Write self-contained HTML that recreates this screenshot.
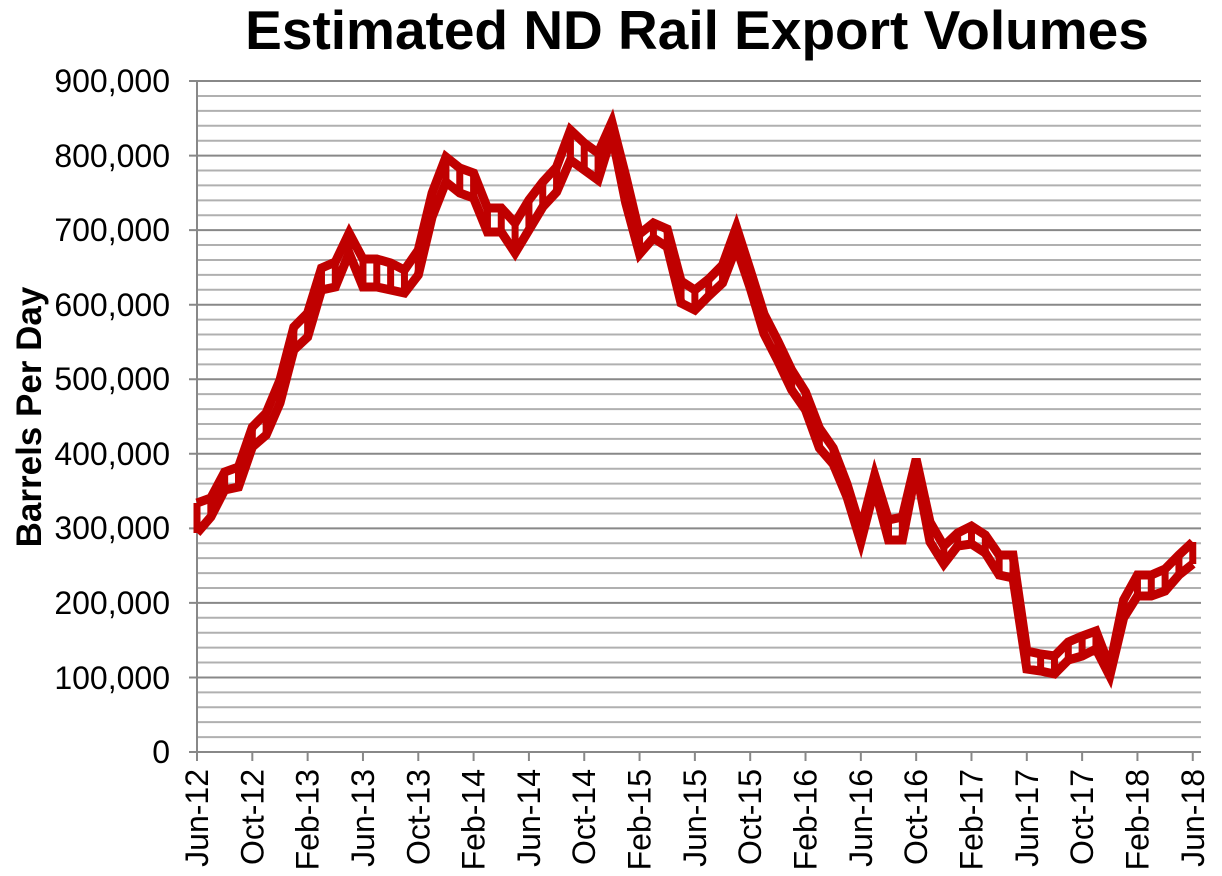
<!DOCTYPE html>
<html><head><meta charset="utf-8"><style>
html,body{margin:0;padding:0;background:#fff;}
svg{display:block;font-family:"Liberation Sans",Arial,sans-serif;}
</style></head><body>
<svg id="s" width="1222" height="876" viewBox="0 0 1222 876" xmlns="http://www.w3.org/2000/svg">
<text x="697" y="49" font-size="55" font-weight="bold" text-anchor="middle">Estimated ND Rail Export Volumes</text>
<text transform="translate(41,417) rotate(-90)" font-size="35" font-weight="bold" text-anchor="middle">Barrels Per Day</text>
<g id="grid"></g>
<g font-size="32" text-anchor="end">
<text x="170" y="763">0</text>
<text x="170" y="689">100,000</text>
<text x="170" y="614">200,000</text>
<text x="170" y="539">300,000</text>
<text x="170" y="465">400,000</text>
<text x="170" y="390">500,000</text>
<text x="170" y="316">600,000</text>
<text x="170" y="241">700,000</text>
<text x="170" y="167">800,000</text>
<text x="170" y="92">900,000</text>
</g>
<g id="xl" font-size="32" text-anchor="end"></g>
<g id="data"></g>
</svg>
<script>
var g=document.getElementById('grid'),ns="http://www.w3.org/2000/svg";
function L(p,x1,y1,x2,y2,c,w){var e=document.createElementNS(ns,'line');e.setAttribute('x1',x1);e.setAttribute('y1',y1);e.setAttribute('x2',x2);e.setAttribute('y2',y2);e.setAttribute('stroke',c);e.setAttribute('stroke-width',w);p.appendChild(e);}
for(var i=0;i<=45;i++){var y=752-i*14.91;var maj=i%5==0;L(g,maj?189:197,y,1201,y,maj?'#888':'#b0b0b0',2);}
L(g,197,81,197,760,'#888',2);
var labs=["Jun-12","Oct-12","Feb-13","Jun-13","Oct-13","Feb-14","Jun-14","Oct-14","Feb-15","Jun-15","Oct-15","Feb-16","Jun-16","Oct-16","Feb-17","Jun-17","Oct-17","Feb-18","Jun-18"];
var xl=document.getElementById('xl');
for(var k=0;k<19;k++){var x=197+k*4*13.83;L(g,x,752,x,761,'#888',2);
var t=document.createElementNS(ns,'text');t.setAttribute('transform','translate('+(x+11)+',769) rotate(-90)');t.textContent=labs[k];xl.appendChild(t);}
var U=[503,498,472,467,427,413,380,327,313,268,262,233,259,259,263,270,250,193,157,168,173,208,208,223,200,182,167,130,143,153,122,176,234,223,229,281,290,279,265,227,270,314,341,370,392,428,448,484,529,475,520,517,459,522,546,533,526,535,555,555,651,654,656,642,636,631,667,600,575,575,569,555,542];
var Lo=[533,517,490,487,447,435,403,350,337,290,287,253,287,287,290,293,275,217,182,193,198,232,232,253,230,207,192,160,170,180,135,203,254,238,247,303,310,296,283,247,288,334,361,390,410,448,464,497,542,488,540,540,470,542,564,546,544,553,575,578,669,671,674,660,656,649,676,618,596,596,591,575,564];
var d=document.getElementById('data'),pu='',pl='';
for(var m=0;m<U.length;m++){var x=197+m*13.83;pu+=x+','+U[m]+' ';pl+=x+','+Lo[m]+' ';L(d,x,U[m],x,Lo[m],'#C00000',7);}
[pu,pl].forEach(function(p){var e=document.createElementNS(ns,'polyline');e.setAttribute('points',p);e.setAttribute('fill','none');e.setAttribute('stroke','#C00000');e.setAttribute('stroke-width',9);e.setAttribute('stroke-linejoin','miter');d.appendChild(e);});
</script>
</body></html>
